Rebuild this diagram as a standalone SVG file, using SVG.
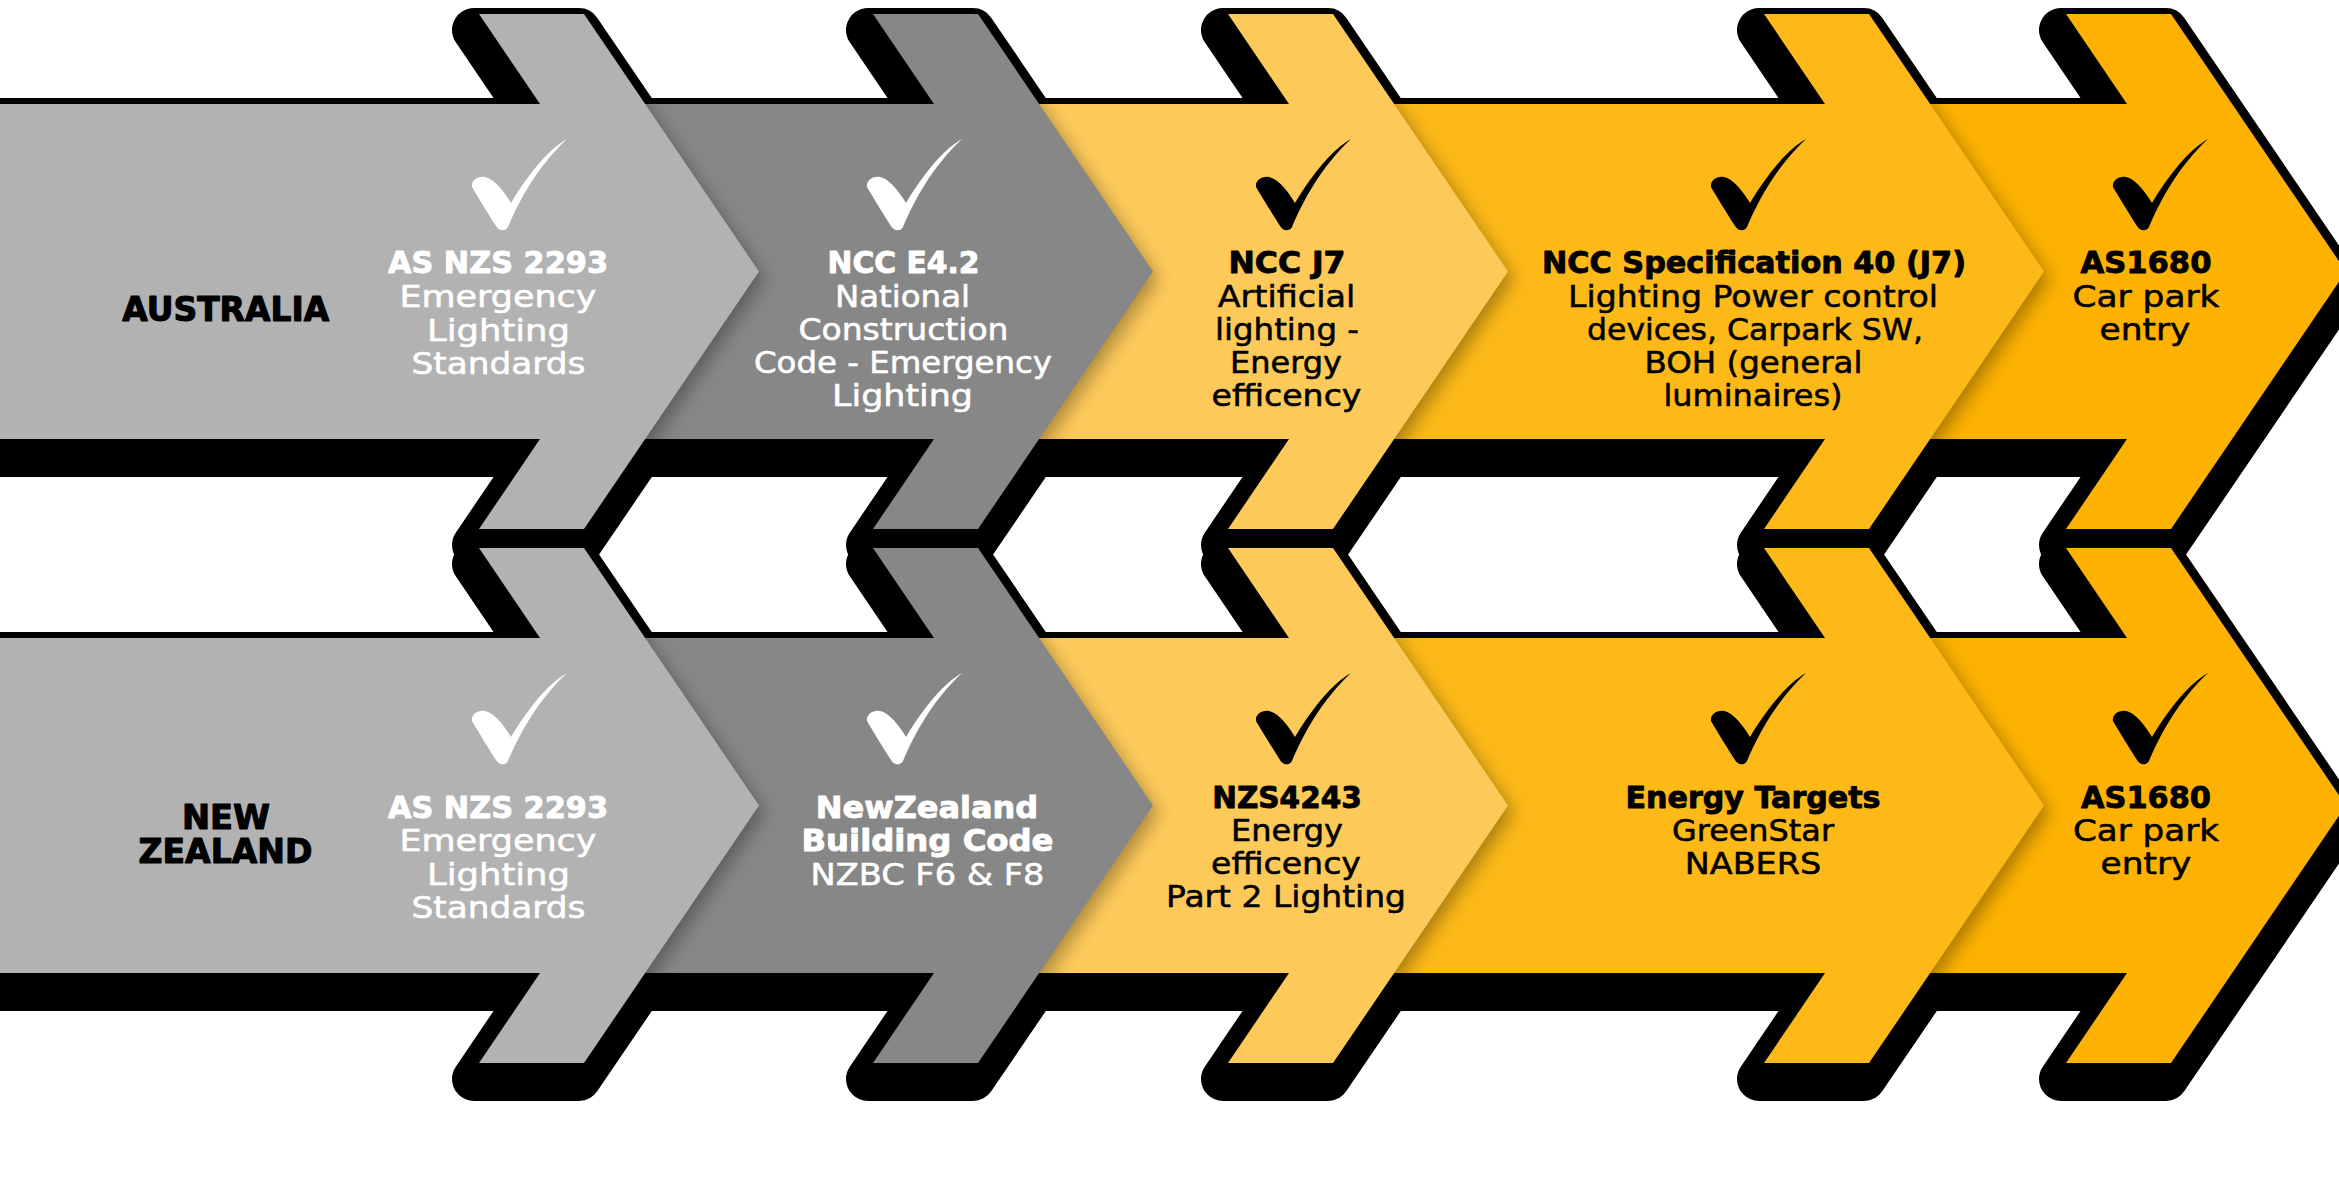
<svg xmlns="http://www.w3.org/2000/svg" width="2339" height="1204" viewBox="0 0 2339 1204">
<defs>
<style>
text{font-family:"DejaVu Sans","Liberation Sans",sans-serif;font-size:30.5px;text-anchor:middle;stroke-width:0.55px;stroke-linejoin:round}
.b{font-weight:700;stroke-width:0.9px}
.w{fill:#fff;stroke:#fff}
.k{fill:#000;stroke:#000}
.cw{fill:#fff}
.ck{fill:#000}
.lbl{font-size:33px;font-weight:700;fill:#000;stroke:#000;stroke-width:1.1px}
.shadow{fill:#000;stroke:#000;stroke-width:44;stroke-linejoin:round}
.s1{fill:#b2b2b2}.s2{fill:#878787}.s3{fill:#fdca5a}.s4{fill:#fcb918}.s5{fill:#fdb201}
.soft{fill:#000;fill-opacity:.33}
</style>
<filter id="blur" x="-10%" y="-10%" width="120%" height="120%"><feGaussianBlur stdDeviation="9"/></filter>
<clipPath id="band"><rect x="-100" y="104" width="2600" height="335"/></clipPath>
<path id="ck" d="M96,0 C78,10 58,34 40,64 C34,54 24,40 14,38 C6,37 0,42 1,48 C8,60 18,76 25,87 C28,92 34,93 37,88 C48,62 66,28 96,0 Z"/>
<path id="p1" d="M-60,104 H540 L479,14 H584 L759,271.5 L584,529 H479 L540,439 H-60 Z"/>
<path id="p2" d="M600,104 H934 L873,14 H978 L1153,271.5 L978,529 H873 L934,439 H600 Z"/>
<path id="p3" d="M1000,104 H1289 L1228,14 H1333 L1508,271.5 L1333,529 H1228 L1289,439 H1000 Z"/>
<path id="p4" d="M1380,104 H1825 L1764,14 H1869 L2044,271.5 L1869,529 H1764 L1825,439 H1380 Z"/>
<path id="p5" d="M1900,104 H2127 L2066,14 H2171 L2346,271.5 L2171,529 H2066 L2127,439 H1900 Z"/>
</defs>

<rect width="2339" height="1204" fill="#fff"/>

<!-- ROW 1: AUSTRALIA -->
<g id="connectors-row1">
<g id="au-shadow" class="shadow" transform="translate(-5,16)">
<use href="#p1"/><use href="#p2"/><use href="#p3"/><use href="#p4"/><use href="#p5"/>
</g>
</g>

<g id="au-as1680">
<use href="#p5" class="s5"/>
<use href="#ck" class="ck" x="2112" y="139"/>
<text class="b k" x="2146" y="273" textLength="131" lengthAdjust="spacingAndGlyphs">AS1680</text>
<text class="k" x="2146" y="306.5" textLength="147" lengthAdjust="spacingAndGlyphs">Car park</text>
<text class="k" x="2145" y="339.5" textLength="91" lengthAdjust="spacingAndGlyphs">entry</text>
</g>

<g id="au-ncc-spec40">
<g clip-path="url(#band)"><use href="#p4" class="soft" transform="translate(5,7)" filter="url(#blur)"/></g>
<use href="#p4" class="s4"/>
<use href="#ck" class="ck" x="1710" y="139"/>
<text class="b k" x="1754" y="273" textLength="424" lengthAdjust="spacingAndGlyphs">NCC Specification 40 (J7)</text>
<text class="k" x="1753" y="306.5" textLength="370" lengthAdjust="spacingAndGlyphs">Lighting Power control</text>
<text class="k" x="1755" y="339.5" textLength="336" lengthAdjust="spacingAndGlyphs">devices, Carpark SW,</text>
<text class="k" x="1753.5" y="372.5" textLength="218" lengthAdjust="spacingAndGlyphs">BOH (general</text>
<text class="k" x="1753" y="405.5" textLength="179" lengthAdjust="spacingAndGlyphs">luminaires)</text>
</g>

<g id="au-ncc-j7">
<g clip-path="url(#band)"><use href="#p3" class="soft" transform="translate(5,7)" filter="url(#blur)"/></g>
<use href="#p3" class="s3"/>
<use href="#ck" class="ck" x="1255" y="139"/>
<text class="b k" x="1287" y="273" textLength="117" lengthAdjust="spacingAndGlyphs">NCC J7</text>
<text class="k" x="1286.5" y="306.5" textLength="137.5" lengthAdjust="spacingAndGlyphs">Artificial</text>
<text class="k" x="1287" y="339.5" textLength="144" lengthAdjust="spacingAndGlyphs">lighting -</text>
<text class="k" x="1286" y="372.5" textLength="112" lengthAdjust="spacingAndGlyphs">Energy</text>
<text class="k" x="1286.5" y="405.5" textLength="150" lengthAdjust="spacingAndGlyphs">efficency</text>
</g>

<g id="au-ncc-e42">
<g clip-path="url(#band)"><use href="#p2" class="soft" transform="translate(5,7)" filter="url(#blur)"/></g>
<use href="#p2" class="s2"/>
<use href="#ck" class="cw" x="866" y="139"/>
<text class="b w" x="903.5" y="273" textLength="152" lengthAdjust="spacingAndGlyphs">NCC E4.2</text>
<text class="w" x="902.5" y="306.5" textLength="135" lengthAdjust="spacingAndGlyphs">National</text>
<text class="w" x="903.5" y="339.5" textLength="210" lengthAdjust="spacingAndGlyphs">Construction</text>
<text class="w" x="903" y="372.5" textLength="298" lengthAdjust="spacingAndGlyphs">Code - Emergency</text>
<text class="w" x="902.5" y="405.5" textLength="141" lengthAdjust="spacingAndGlyphs">Lighting</text>
</g>

<g id="au-as-nzs-2293">
<g clip-path="url(#band)"><use href="#p1" class="soft" transform="translate(5,7)" filter="url(#blur)"/></g>
<use href="#p1" class="s1"/>
<use href="#ck" class="cw" x="471" y="139"/>
<text class="b w" x="498" y="273" textLength="220" lengthAdjust="spacingAndGlyphs">AS NZS 2293</text>
<text class="w" x="498" y="307" textLength="197" lengthAdjust="spacingAndGlyphs">Emergency</text>
<text class="w" x="498.5" y="341" textLength="143" lengthAdjust="spacingAndGlyphs">Lighting</text>
<text class="w" x="498.5" y="374" textLength="174" lengthAdjust="spacingAndGlyphs">Standards</text>
</g>

<g id="au-label">
<text class="lbl" x="225.7" y="321" textLength="207" lengthAdjust="spacingAndGlyphs">AUSTRALIA</text>
</g>

<!-- ROW 2: NEW ZEALAND -->
<g id="connectors-row2">
<g id="nz-shadow" class="shadow" transform="translate(-5,550)">
<use href="#p1"/><use href="#p2"/><use href="#p3"/><use href="#p4"/><use href="#p5"/>
</g>
</g>

<g id="nz-as1680">
<g transform="translate(0,534)">
<use href="#p5" class="s5"/>
<use href="#ck" class="ck" x="2112" y="139"/>
</g>
<text class="b k" x="2146" y="808" textLength="130" lengthAdjust="spacingAndGlyphs">AS1680</text>
<text class="k" x="2146" y="841" textLength="146" lengthAdjust="spacingAndGlyphs">Car park</text>
<text class="k" x="2146" y="874" textLength="91" lengthAdjust="spacingAndGlyphs">entry</text>
</g>

<g id="nz-energy-targets">
<g transform="translate(0,534)">
<g clip-path="url(#band)"><use href="#p4" class="soft" transform="translate(5,7)" filter="url(#blur)"/></g>
<use href="#p4" class="s4"/>
<use href="#ck" class="ck" x="1710" y="139"/>
</g>
<text class="b k" x="1753" y="808" textLength="255" lengthAdjust="spacingAndGlyphs">Energy Targets</text>
<text class="k" x="1753" y="840.5" textLength="162" lengthAdjust="spacingAndGlyphs">GreenStar</text>
<text class="k" x="1753" y="873.5" textLength="136.5" lengthAdjust="spacingAndGlyphs">NABERS</text>
</g>

<g id="nz-nzs4243">
<g transform="translate(0,534)">
<g clip-path="url(#band)"><use href="#p3" class="soft" transform="translate(5,7)" filter="url(#blur)"/></g>
<use href="#p3" class="s3"/>
<use href="#ck" class="ck" x="1255" y="139"/>
</g>
<text class="b k" x="1287" y="808" textLength="149.5" lengthAdjust="spacingAndGlyphs">NZS4243</text>
<text class="k" x="1287" y="840.5" textLength="112" lengthAdjust="spacingAndGlyphs">Energy</text>
<text class="k" x="1286" y="873.5" textLength="150" lengthAdjust="spacingAndGlyphs">efficency</text>
<text class="k" x="1286" y="907" textLength="240" lengthAdjust="spacingAndGlyphs">Part 2 Lighting</text>
</g>

<g id="nz-nzbc">
<g transform="translate(0,534)">
<g clip-path="url(#band)"><use href="#p2" class="soft" transform="translate(5,7)" filter="url(#blur)"/></g>
<use href="#p2" class="s2"/>
<use href="#ck" class="cw" x="866" y="139"/>
</g>
<text class="b w" x="927" y="818" textLength="222.5" lengthAdjust="spacingAndGlyphs">NewZealand</text>
<text class="b w" x="927.5" y="851" textLength="252" lengthAdjust="spacingAndGlyphs">Building Code</text>
<text class="w" x="927.5" y="885" textLength="234" lengthAdjust="spacingAndGlyphs">NZBC F6 &amp; F8</text>
</g>

<g id="nz-as-nzs-2293">
<g transform="translate(0,534)">
<g clip-path="url(#band)"><use href="#p1" class="soft" transform="translate(5,7)" filter="url(#blur)"/></g>
<use href="#p1" class="s1"/>
<use href="#ck" class="cw" x="471" y="139"/>
</g>
<text class="b w" x="498" y="818" textLength="220" lengthAdjust="spacingAndGlyphs">AS NZS 2293</text>
<text class="w" x="498" y="851" textLength="197" lengthAdjust="spacingAndGlyphs">Emergency</text>
<text class="w" x="498.5" y="885" textLength="143" lengthAdjust="spacingAndGlyphs">Lighting</text>
<text class="w" x="498.5" y="918" textLength="174" lengthAdjust="spacingAndGlyphs">Standards</text>
</g>

<g id="nz-label">
<text class="lbl" x="226" y="828.6" textLength="88" lengthAdjust="spacingAndGlyphs">NEW</text>
<text class="lbl" x="225.5" y="863" textLength="174" lengthAdjust="spacingAndGlyphs">ZEALAND</text>
</g>
</svg>
